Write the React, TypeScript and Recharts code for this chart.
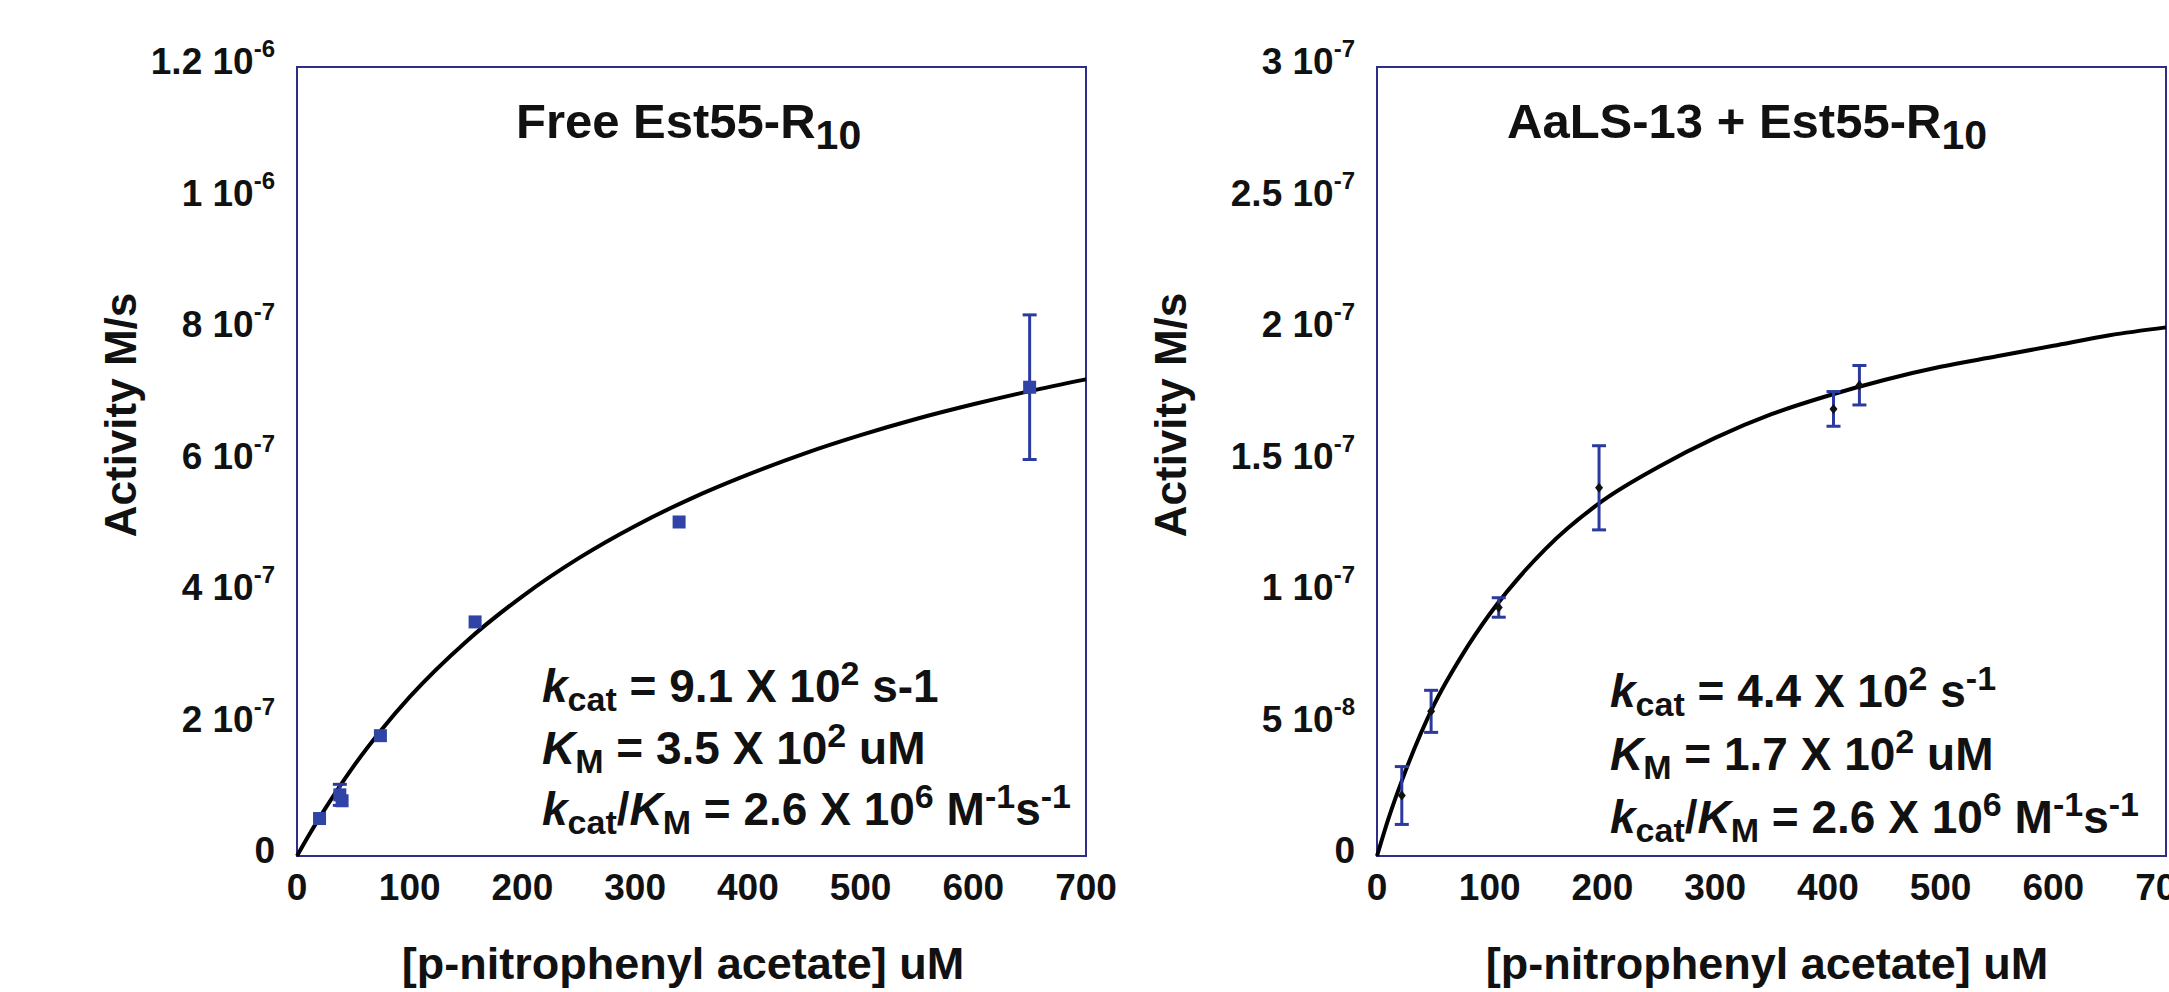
import React from 'react';
import { ComposedChart, Line, Scatter, XAxis, YAxis, ErrorBar, ReferenceArea } from 'recharts';

const FONT = "'Liberation Sans', Arial, Helvetica, sans-serif";
const FRAME = '#2e2e86';
const ERR_BLUE = '#2b3a9e';
const MARK_BLUE = '#2f44a6';

// shared x axis
const X_TICKS = [0, 100, 200, 300, 400, 500, 600, 700];
const X_TICK_LABELS = ['0', '100', '200', '300', '400', '500', '600', '700'];

// left panel: free Est55-R10
const FREE_CONC = [20, 38, 40, 74, 158, 339, 650];
const FREE_RATE = [5.7e-8, 9.3e-8, 8.4e-8, 1.83e-7, 3.56e-7, 5.08e-7, 7.13e-7];
const FREE_ERR = [0, 1.6e-8, 0, 0, 0, 0, 1.1e-7];
const FREE_FIT_X = [0, 10, 25, 50, 75, 100, 150, 200, 250, 300, 350, 400, 450, 500, 550, 600, 650, 700];
const FREE_FIT_Y = [0, 0.3e-7, 0.72e-7, 1.36e-7, 1.92e-7, 2.42e-7, 3.26e-7, 3.95e-7, 4.53e-7, 5.02e-7, 5.44e-7, 5.8e-7, 6.12e-7, 6.4e-7, 6.65e-7, 6.87e-7, 7.07e-7, 7.25e-7];
const FREE_Y_TICKS = [0, 2e-7, 4e-7, 6e-7, 8e-7, 1e-6, 1.2e-6];
const FREE_Y_LABELS: [string, string][] = [['0', ''], ['2 10', '-7'], ['4 10', '-7'], ['6 10', '-7'], ['8 10', '-7'], ['1 10', '-6'], ['1.2 10', '-6']];

// right panel: AaLS-13 + Est55-R10
const CAGE_CONC = [22, 48, 108, 197, 405, 428];
const CAGE_RATE = [2.3e-8, 5.5e-8, 9.45e-8, 1.4e-7, 1.7e-7, 1.79e-7];
const CAGE_ERR = [1.1e-8, 0.8e-8, 0.37e-8, 1.6e-8, 0.66e-8, 0.75e-8];
const CAGE_FIT_X = [0, 10, 25, 50, 75, 100, 150, 200, 250, 300, 350, 400, 450, 500, 550, 600, 650, 700];
const CAGE_FIT_Y = [0, 0.14e-7, 0.32e-7, 0.57e-7, 0.76e-7, 0.92e-7, 1.17e-7, 1.35e-7, 1.48e-7, 1.59e-7, 1.68e-7, 1.75e-7, 1.81e-7, 1.86e-7, 1.9e-7, 1.94e-7, 1.98e-7, 2.01e-7];
const CAGE_Y_TICKS = [0, 5e-8, 1e-7, 1.5e-7, 2e-7, 2.5e-7, 3e-7];
const CAGE_Y_LABELS: [string, string][] = [['0', ''], ['5 10', '-8'], ['1 10', '-7'], ['1.5 10', '-7'], ['2 10', '-7'], ['2.5 10', '-7'], ['3 10', '-7']];

const textStyle = { fontFamily: FONT, fontWeight: 700, fill: '#111', whiteSpace: 'pre' as const };

// [text, level (0 normal, -1 sub, 1 sup), italic]
type Seg = [string, number, boolean?];

function Rich({ x, y, size, small, up, down, anchor, segs }: {
  x: number; y: number; size: number; small: number; up: number; down: number; anchor?: 'start' | 'end' | 'middle'; segs: Seg[];
}) {
  let prev = 0;
  return (
    <text x={x} y={y} fontSize={size} textAnchor={anchor ?? 'start'} style={textStyle}>
      {segs.map(([t, lvl, it], i) => {
        const off = lvl === 1 ? -up : lvl === -1 ? down : 0;
        const dy = off - prev;
        prev = off;
        return (
          <tspan key={i} dy={dy} fontSize={lvl ? small : size} fontStyle={it ? 'italic' : 'normal'}>
            {t}
          </tspan>
        );
      })}
    </text>
  );
}

function makeYTick(ticks: number[], labels: [string, string][]) {
  return (props: any) => {
    const { x, y, payload } = props;
    const i = ticks.findIndex((t) => Math.abs(t - payload.value) < 1e-12);
    const [m, e] = labels[i] ?? ['', ''];
    const segs: Seg[] = e ? [[m, 0], [e, 1]] : [[m, 0]];
    return <Rich x={x - 22} y={y + 7} size={37} small={24} up={17} down={0} anchor="end" segs={segs} />;
  };
}

const XTick = (props: any) => {
  const { x, y, payload } = props;
  const i = X_TICKS.indexOf(payload.value);
  return (
    <text x={x} y={y + 44} textAnchor="middle" fontSize={37} style={textStyle}>
      {X_TICK_LABELS[i]}
    </text>
  );
};

const square = (props: any) => (
  <rect x={props.cx - 6.5} y={props.cy - 6.5} width={13} height={13} fill={MARK_BLUE} />
);

const diamond = (props: any) => (
  <polygon
    points={`${props.cx},${props.cy - 5} ${props.cx + 4},${props.cy} ${props.cx},${props.cy + 5} ${props.cx - 4},${props.cy}`}
    fill="#111"
  />
);

interface PanelProps {
  left: number;
  width: number;
  axisWidth: number;
  marginRight: number;
  yMax: number;
  yTicks: number[];
  yLabels: [string, string][];
  points: { x: number; y: number; err: number }[];
  fit: { x: number; y: number }[];
  shape: (p: any) => React.ReactElement;
  yTitleX: number;
  xTitleX: number;
}

function Panel(p: PanelProps) {
  return (
    <div style={{ position: 'absolute', left: p.left, top: 0 }}>
      <ComposedChart width={p.width} height={992} margin={{ top: 67, right: p.marginRight, bottom: 0, left: 0 }}>
        <XAxis
          dataKey="x"
          type="number"
          domain={[0, 700]}
          ticks={X_TICKS}
          interval={0}
          height={136}
          axisLine={false}
          tickLine={false}
          tickSize={0}
          tickMargin={0}
          tick={XTick}
          label={{
            content: () => (
              <text x={p.xTitleX} y={979} textAnchor="middle" fontSize={45} style={textStyle}>
                [p-nitrophenyl acetate] uM
              </text>
            ),
          }}
        />
        <YAxis
          dataKey="y"
          type="number"
          domain={[0, p.yMax]}
          ticks={p.yTicks}
          interval={0}
          width={p.axisWidth}
          axisLine={false}
          tickLine={false}
          tickSize={0}
          tickMargin={0}
          tick={makeYTick(p.yTicks, p.yLabels)}
          label={{
            content: () => (
              <text
                x={p.yTitleX}
                y={415}
                transform={`rotate(-90 ${p.yTitleX} 415)`}
                textAnchor="middle"
                dominantBaseline="central"
                fontSize={44}
                style={textStyle}
              >
                Activity M/s
              </text>
            ),
          }}
        />
        <ReferenceArea x1={0} x2={700} y1={0} y2={p.yMax} fill="none" fillOpacity={0} stroke={FRAME} strokeWidth={2} ifOverflow="visible" />
        <Line data={p.fit} dataKey="y" type="monotone" stroke="#000" strokeWidth={4} dot={false} isAnimationActive={false} />
        <Scatter data={p.points} dataKey="y" shape={p.shape} isAnimationActive={false}>
          <ErrorBar dataKey="err" direction="y" width={7} strokeWidth={3} stroke={ERR_BLUE} />
        </Scatter>
      </ComposedChart>
    </div>
  );
}

function Kinetics({ x, y, kcat, km, kcatUnit }: { x: number; y: number[]; kcat: string; km: string; kcatUnit: Seg[] }) {
  const k = { size: 46, small: 34, up: 17, down: 9 };
  return (
    <g>
      <Rich x={x} y={y[0]} {...k} segs={[['k', 0, true], ['cat', -1], [` = ${kcat} X 10`, 0], ['2', 1], ...kcatUnit]} />
      <Rich x={x} y={y[1]} {...k} segs={[['K', 0, true], ['M', -1], [` = ${km} X 10`, 0], ['2', 1], [' uM', 0]]} />
      <Rich
        x={x}
        y={y[2]}
        {...k}
        segs={[['k', 0, true], ['cat', -1], ['/', 0], ['K', 0, true], ['M', -1], [' = 2.6 X 10', 0], ['6', 1], [' M', 0], ['-1', 1], ['s', 0], ['-1', 1]]}
      />
    </g>
  );
}

export default function App() {
  const freePoints = FREE_CONC.map((x, i) => ({ x, y: FREE_RATE[i], err: FREE_ERR[i] }));
  const freeFit = FREE_FIT_X.map((x, i) => ({ x, y: FREE_FIT_Y[i] }));
  const cagePoints = CAGE_CONC.map((x, i) => ({ x, y: CAGE_RATE[i], err: CAGE_ERR[i] }));
  const cageFit = CAGE_FIT_X.map((x, i) => ({ x, y: CAGE_FIT_Y[i] }));

  return (
    <div style={{ position: 'absolute', left: 0, top: 0, width: 2169, height: 992, background: '#fff', overflow: 'hidden' }}>
      <Panel
        left={0}
        width={1140}
        axisWidth={297}
        marginRight={54}
        yMax={1.2e-6}
        yTicks={FREE_Y_TICKS}
        yLabels={FREE_Y_LABELS}
        points={freePoints}
        fit={freeFit}
        shape={square}
        yTitleX={120}
        xTitleX={683}
      />
      <Panel
        left={1100}
        width={1069}
        axisWidth={277}
        marginRight={3}
        yMax={3e-7}
        yTicks={CAGE_Y_TICKS}
        yLabels={CAGE_Y_LABELS}
        points={cagePoints}
        fit={cageFit}
        shape={diamond}
        yTitleX={70}
        xTitleX={667}
      />
      <svg width={2169} height={992} style={{ position: 'absolute', left: 0, top: 0, pointerEvents: 'none' }}>
        <Rich x={516} y={138} size={49} small={41} up={0} down={11} segs={[['Free Est55-R', 0], ['10', -1]]} />
        <Rich x={1507} y={138} size={49} small={41} up={0} down={11} segs={[['AaLS-13 + Est55-R', 0], ['10', -1]]} />
        <Kinetics x={542} y={[702, 764, 825]} kcat="9.1" km="3.5" kcatUnit={[[' s-1', 0]]} />
        <Kinetics x={1610} y={[707, 770, 833]} kcat="4.4" km="1.7" kcatUnit={[[' s', 0], ['-1', 1]]} />
      </svg>
    </div>
  );
}
